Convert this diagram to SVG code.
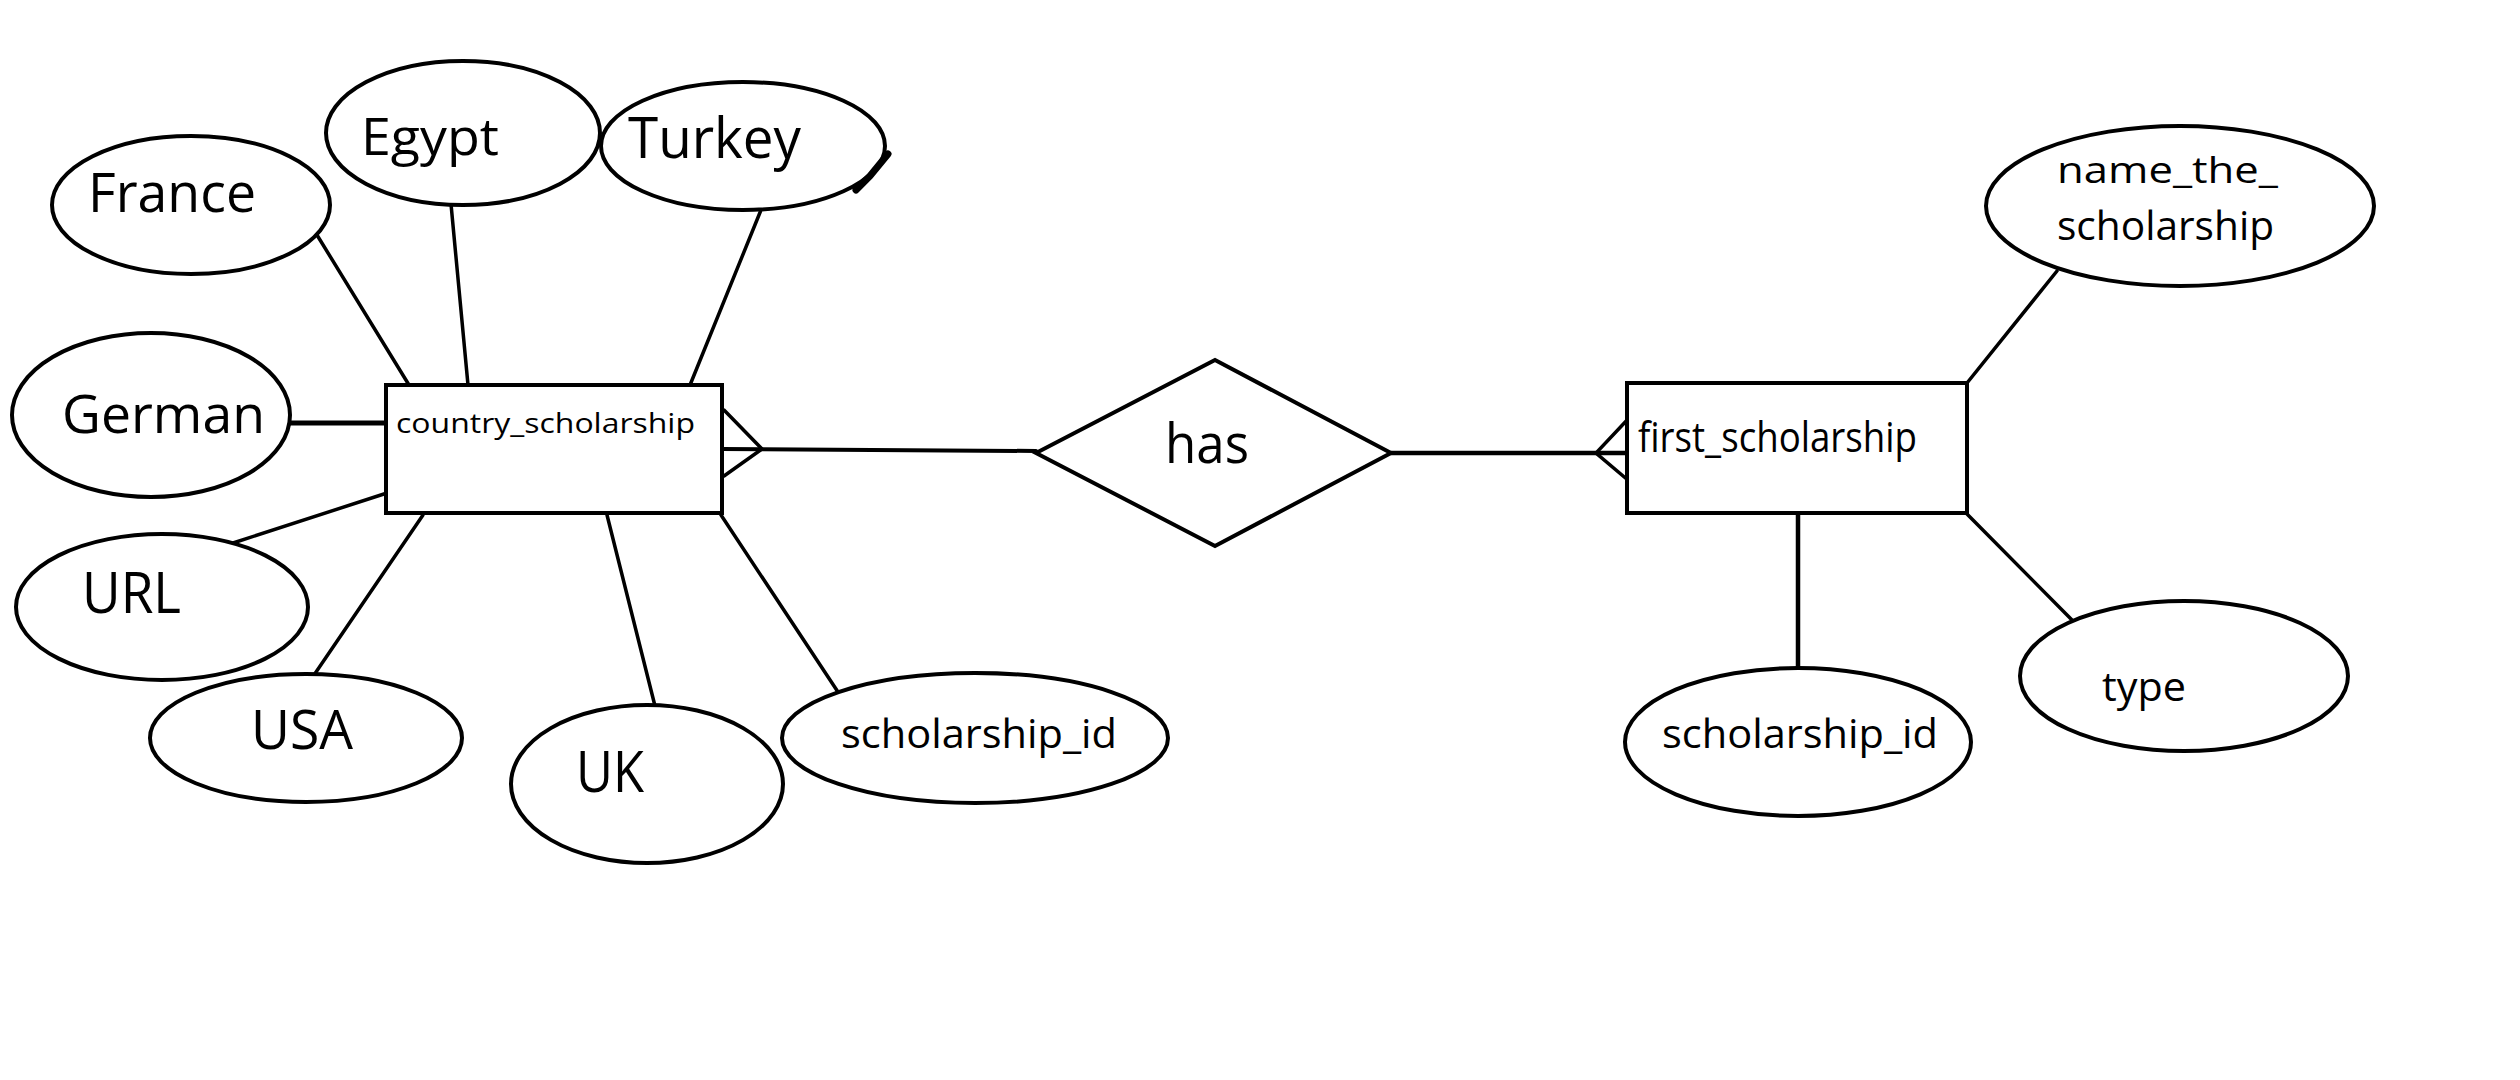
<svg xmlns="http://www.w3.org/2000/svg" width="2520" height="1080" viewBox="0 0 2520 1080">
<style>
  .shape { fill: #fff; stroke: #000; stroke-width: 4; }
  .conn line, .conn polyline { stroke: #000; stroke-width: 3.5; fill: none; stroke-linecap: round; stroke-linejoin: miter; }
  text { font-family: "Open Sans", "Liberation Sans", sans-serif; fill: #000; }
</style>
<rect x="0" y="0" width="2520" height="1080" fill="#fff"/>
<g id="connectors" class="conn">
  <line x1="317" y1="235" x2="409" y2="385"/>
  <line x1="451" y1="204" x2="468" y2="385"/>
  <line x1="761" y1="210" x2="688" y2="390"/>
  <line x1="289" y1="423" x2="387" y2="423" style="stroke-width:5"/>
  <line x1="387" y1="493" x2="233" y2="543"/>
  <line x1="423" y1="515" x2="314" y2="675"/>
  <line x1="607" y1="515" x2="656" y2="710"/>
  <line x1="721" y1="515" x2="838" y2="692"/>
  <polyline points="724,410 762,449 724,476"/>
  <line x1="722" y1="449" x2="1036" y2="451" style="stroke-width:4"/>
  <line x1="1391" y1="453" x2="1629" y2="453" style="stroke-width:4.5"/>
  <polyline points="1629,418 1596,453 1629,481"/>
  <line x1="2057" y1="271" x2="1967" y2="383"/>
  <line x1="1967" y1="514" x2="2072" y2="620"/>
  <line x1="1798" y1="514" x2="1798" y2="668" style="stroke-width:4.5"/>
</g>
<g id="country_scholarship">
  <rect class="shape" x="386" y="385" width="336" height="128"/>
  <text x="396" y="433" font-size="27" textLength="299" lengthAdjust="spacingAndGlyphs">country_scholarship</text>
</g>
<g id="has">
  <polygon class="shape" points="1036,453 1215,360 1391,453 1215,546"/>
  <text x="1165" y="463" font-size="55" textLength="84" lengthAdjust="spacingAndGlyphs">has</text>
</g>
<g id="first_scholarship">
  <rect class="shape" x="1627" y="383" width="340" height="130"/>
  <text x="1638" y="452" font-size="42" textLength="279" lengthAdjust="spacingAndGlyphs">first_scholarship</text>
</g>
<g id="France">
  <ellipse class="shape" cx="191" cy="205" rx="139" ry="69"/>
  <text x="88" y="212" font-size="54" textLength="168" lengthAdjust="spacingAndGlyphs">France</text>
</g>
<g id="Egypt">
  <ellipse class="shape" cx="463" cy="133" rx="137" ry="72"/>
  <text x="361" y="155" font-size="52" textLength="138" lengthAdjust="spacingAndGlyphs">Egypt</text>
</g>
<g id="Turkey">
  <ellipse class="shape" cx="743" cy="146" rx="142" ry="64"/>
  <path d="M888,154 L870,176 L856,190" stroke="#000" stroke-width="7" fill="none" stroke-linecap="round"/>
  <text x="628" y="158" font-size="56" textLength="173" lengthAdjust="spacingAndGlyphs">Turkey</text>
</g>
<g id="German">
  <ellipse class="shape" cx="151" cy="415" rx="139" ry="82"/>
  <text x="62" y="433" font-size="53" textLength="203" lengthAdjust="spacingAndGlyphs">German</text>
</g>
<g id="URL">
  <ellipse class="shape" cx="162" cy="607" rx="146" ry="73"/>
  <text x="82" y="613" font-size="56" textLength="99" lengthAdjust="spacingAndGlyphs">URL</text>
</g>
<g id="USA">
  <ellipse class="shape" cx="306" cy="738" rx="156" ry="64"/>
  <text x="251" y="749" font-size="54" textLength="102" lengthAdjust="spacingAndGlyphs">USA</text>
</g>
<g id="UK">
  <ellipse class="shape" cx="647" cy="784" rx="136" ry="79"/>
  <text x="576" y="792" font-size="56" textLength="68" lengthAdjust="spacingAndGlyphs">UK</text>
</g>
<g id="scholarship_id_left">
  <ellipse class="shape" cx="975" cy="738" rx="193" ry="65"/>
  <text x="841" y="748" font-size="41" textLength="276" lengthAdjust="spacingAndGlyphs">scholarship_id</text>
</g>
<g id="name_the_scholarship">
  <ellipse class="shape" cx="2180" cy="206" rx="194" ry="80"/>
  <text x="2057" y="183" font-size="36" textLength="221" lengthAdjust="spacingAndGlyphs">name_the_</text>
  <text x="2057" y="240" font-size="41" textLength="217" lengthAdjust="spacingAndGlyphs">scholarship</text>
</g>
<g id="type">
  <ellipse class="shape" cx="2184" cy="676" rx="164" ry="75"/>
  <text x="2102" y="701" font-size="41" textLength="84" lengthAdjust="spacingAndGlyphs">type</text>
</g>
<g id="scholarship_id_right">
  <ellipse class="shape" cx="1798" cy="742" rx="173" ry="74"/>
  <text x="1662" y="748" font-size="41" textLength="276" lengthAdjust="spacingAndGlyphs">scholarship_id</text>
</g>
</svg>
